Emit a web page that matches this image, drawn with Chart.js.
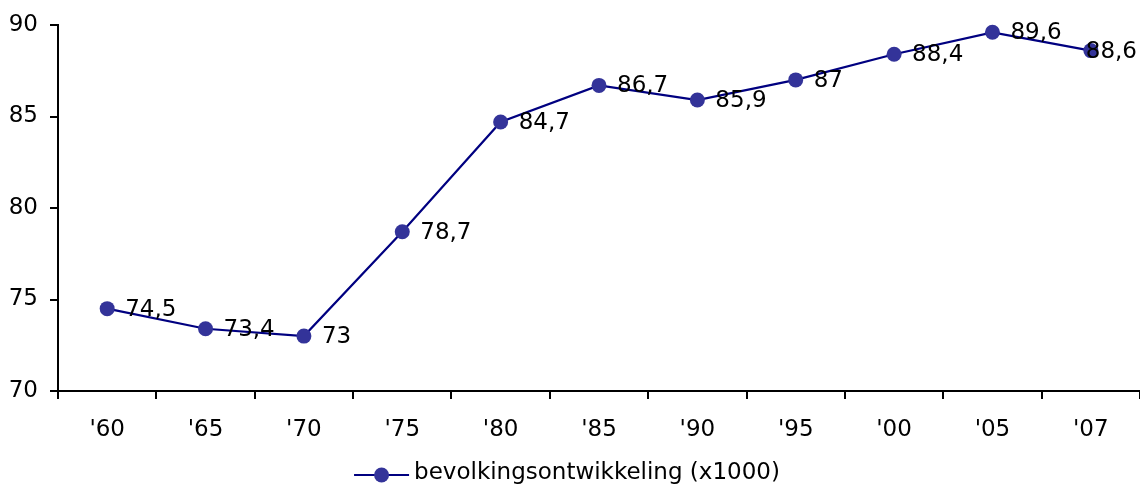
<!DOCTYPE html>
<html>
<head>
<meta charset="utf-8">
<script src="https://cdn.jsdelivr.net/npm/chart.js@4/dist/chart.umd.min.js"></script>
<style>
html,body{margin:0;padding:0;background:#fff;}
#wrap{width:1140px;height:486px;}
</style>
</head>
<body>
<div id="wrap"><canvas id="c" width="1140" height="486"></canvas></div>
<script>
const categories = ["'60","'65","'70","'75","'80","'85","'90","'95","'00","'05","'07"];
const values = [74.5, 73.4, 73, 78.7, 84.7, 86.7, 85.9, 87, 88.4, 89.6, 88.6];
const valueLabels = ["74,5","73,4","73","78,7","84,7","86,7","85,9","87","88,4","89,6","88,6"];
const yTicks = [70, 75, 80, 85, 90];
const seriesName = "bevolkingsontwikkeling (x1000)";

const FONT = "'DejaVu Sans', Verdana, sans-serif";
const FS = 23;
const LINE = '#000080';
const MARK = '#333399';

const labelPlugin = {
  id: 'valueLabels',
  afterDatasetsDraw(chart) {
    const ctx = chart.ctx;
    const meta = chart.getDatasetMeta(0);
    ctx.save();
    ctx.font = FS + 'px ' + FONT;
    ctx.fillStyle = '#000';
    ctx.textAlign = 'left';
    ctx.textBaseline = 'middle';
    meta.data.forEach((pt, i) => {
      const w = ctx.measureText(valueLabels[i]).width;
      let x = pt.x + 18;
      if (x + w > chart.width - 3) x = chart.width - 3 - w;
      ctx.fillText(valueLabels[i], x, pt.y + 1);
    });
    ctx.restore();
  },
  afterDraw(chart) {
    const ctx = chart.ctx;
    const ds = chart.data.datasets[0];
    ctx.save();
    ctx.font = FS + 'px ' + FONT;
    const tw = ctx.measureText(ds.label).width;
    const symW = 55, gap = 5;
    const total = symW + gap + tw;
    const x0 = (chart.width - total) / 2 - 3;
    const yc = chart.chartArea.bottom + 82;
    ctx.strokeStyle = ds.borderColor;
    ctx.lineWidth = 2.2;
    ctx.beginPath(); ctx.moveTo(x0, yc + 2); ctx.lineTo(x0 + symW, yc + 2); ctx.stroke();
    ctx.fillStyle = ds.pointBackgroundColor;
    ctx.beginPath(); ctx.arc(x0 + symW / 2, yc + 2, 7.5, 0, Math.PI * 2); ctx.fill();
    ctx.fillStyle = '#000';
    ctx.textAlign = 'left';
    ctx.textBaseline = 'middle';
    ctx.fillText(ds.label, x0 + symW + gap, yc);
    ctx.restore();
  }
};

new Chart(document.getElementById('c'), {
  type: 'line',
  data: {
    labels: categories,
    datasets: [{
      label: seriesName,
      data: values,
      borderColor: LINE,
      borderWidth: 2.2,
      backgroundColor: MARK,
      pointBackgroundColor: MARK,
      pointBorderColor: MARK,
      pointRadius: 7.5,
      pointBorderWidth: 0,
      pointStyle: 'circle',
      tension: 0,
      fill: false,
      clip: false
    }]
  },
  options: {
    responsive: false,
    animation: false,
    devicePixelRatio: 1,
    layout: { autoPadding: false, padding: { top: 25, right: 0, left: 0, bottom: 0 } },
    plugins: {
      legend: { display: false },
      tooltip: { enabled: false }
    },
    scales: {
      x: {
        type: 'category',
        offset: true,
        grid: { offset: true, drawOnChartArea: false, drawTicks: true, tickLength: 8, color: '#000', lineWidth: 2 },
        border: { color: '#000', width: 2 },
        ticks: { color: '#000', font: { family: FONT, size: FS }, padding: 17, maxRotation: 0, autoSkip: false },
        afterFit(s) { s.height = 95; s.paddingLeft = 0; s.paddingRight = 0; }
      },
      y: {
        min: 70, max: 90,
        afterBuildTicks(s) { s.ticks = yTicks.map(v => ({ value: v })); },
        grid: { drawOnChartArea: false, drawTicks: true, tickLength: 8, color: '#000', lineWidth: 2 },
        border: { color: '#000', width: 2 },
        ticks: { color: '#000', font: { family: FONT, size: FS }, padding: 12 },
        afterFit(s) { s.width = 58; s.paddingTop = 0; s.paddingBottom = 0; }
      }
    }
  },
  plugins: [labelPlugin]
});
</script>
</body>
</html>
